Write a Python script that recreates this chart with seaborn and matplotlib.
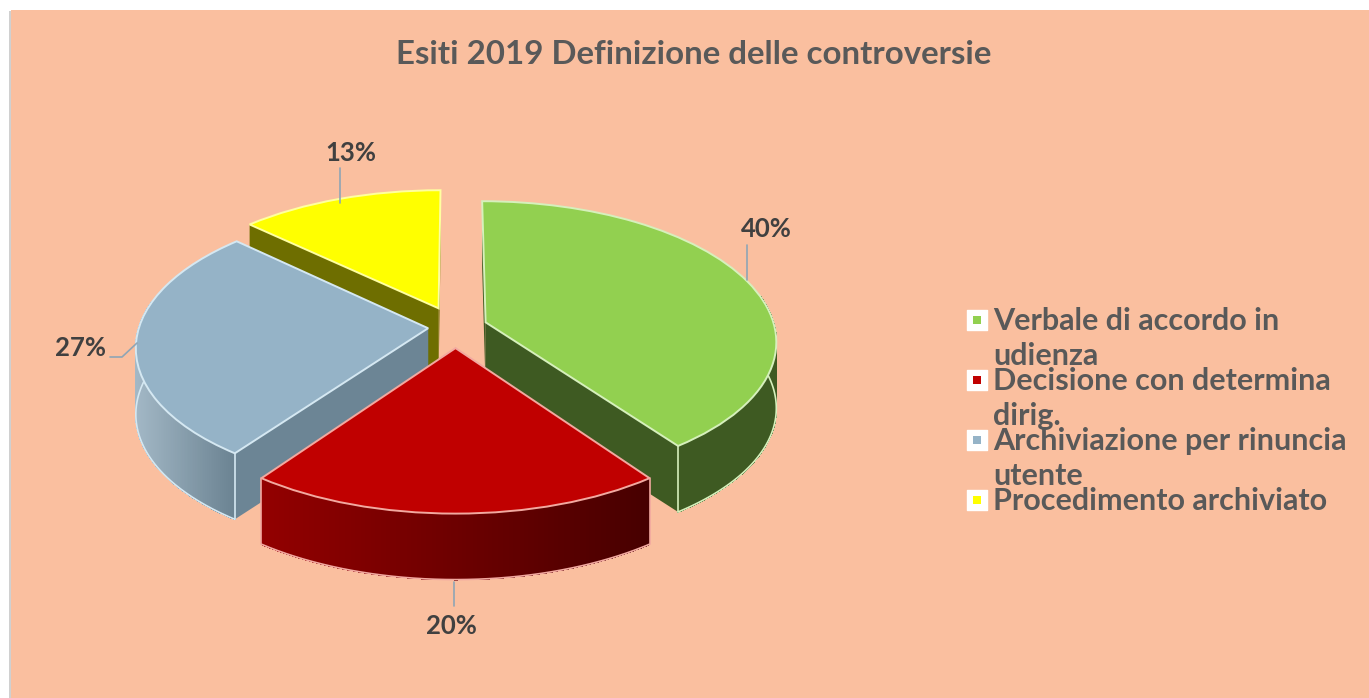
import numpy as np
import matplotlib
matplotlib.use("Agg")
import matplotlib.pyplot as plt
from matplotlib.transforms import Transform
from matplotlib.patches import Rectangle
from matplotlib.colors import to_rgb
import seaborn as sns

title = "Esiti 2019 Definizione delle controversie"
categories = ["Verbale di accordo in\nudienza", "Decisione con determina\ndirig.",
              "Archiviazione per rinuncia\nutente", "Procedimento archiviato"]
values = [40, 20, 27, 13]
top_colors = ["#92D050", "#C00000", "#95B3C7", "#FFFF00"]
edge_colors = ["#D6F0BC", "#F2A9A0", "#D5E8F2", "#FFFFA0"]
wall_left = ["#3E5A22", "#930000", "#A3B8C6", "#6E6E00"]
wall_right = ["#3E5A22", "#470000", "#6A8291", "#6E6E00"]
inner_colors = ["#3E5A22", "#6A0000", "#6C8595", "#6E6E00"]
explode = [0.11, 0.15, 0.095, 0.15]
label_pos = [(766, 229), (451, 626), (80, 348), (351, 153)]
leaders = [[(747, 280), (747, 245)], [(454, 582), (454, 606)],
           [(137, 343), (122, 357), (110, 357)], [(340, 203), (340, 168)]]

CX, CY, A, B, P, DEPTH = 455.5, 327.0, 289.0, 138.0, 0.13, 66.0


class Perspective(Transform):
    input_dims = output_dims = 2
    is_separable = False
    has_inverse = False

    def transform_non_affine(self, xy):
        xy = np.asarray(xy, dtype=float)
        d = 1 + P * xy[:, 1]
        return np.column_stack([CX + A * xy[:, 0] / d, CY - B * xy[:, 1] / d])


sns.set_theme(style="white")
plt.rcParams["font.family"] = ["Lato", "DejaVu Sans"]

fig = plt.figure(figsize=(13.69, 6.98), dpi=100, facecolor="white")
ax = fig.add_axes([0, 0, 1, 1])
palette = sns.color_palette(top_colors)
wedges, _ = ax.pie(values, colors=palette, explode=explode, startangle=90,
                   counterclock=False, radius=1.0)
ax.set_aspect("auto")
ax.set_xlim(0, 1369)
ax.set_ylim(698, 0)
ax.axis("off")

ax.add_patch(Rectangle((9, 11), 3, 690, fc="#D0D0D0", ec="none", zorder=0))
ax.add_patch(Rectangle((11, 10), 1360, 690, fc="#FABF9F", ec="none", zorder=0.5))

proj = Perspective()
tr = proj + ax.transData
order = [3, 0, 2, 1]  # back to front
z = 2
for i in order:
    w = wedges[i]
    c = np.array(w.center)
    t1, t2 = np.deg2rad(sorted([w.theta1, w.theta2]))
    ang = np.linspace(t1, t2, 200)
    rim = c + np.column_stack([np.cos(ang), np.sin(ang)])
    rim_px = proj.transform_non_affine(rim)
    apex_px = proj.transform_non_affine(c[None, :])[0]
    # inner walls
    for end in (rim_px[0], rim_px[-1]):
        poly = np.array([apex_px, end, end + [0, DEPTH], apex_px + [0, DEPTH]])
        ax.fill(poly[:, 0], poly[:, 1], fc=inner_colors[i], ec="none", zorder=z)
    # outer wall with horizontal shading, only on the side facing the viewer
    front = np.sin(ang) < 0.2
    left = np.array(to_rgb(wall_left[i]))
    right = np.array(to_rgb(wall_right[i]))
    xmin, xmax = rim_px[:, 0].min(), rim_px[:, 0].max()
    for k in range(len(rim_px) - 1):
        if not (front[k] and front[k + 1]):
            continue
        p, q = rim_px[k], rim_px[k + 1]
        f = ((p[0] + q[0]) / 2 - xmin) / (xmax - xmin)
        col = left + (right - left) * f
        ax.fill([p[0], q[0], q[0], p[0]], [p[1], q[1], q[1] + DEPTH, p[1] + DEPTH],
                fc=col, ec=col, lw=0.5, antialiased=False, zorder=z + 0.1)
    if front.any():
        ax.plot(rim_px[front, 0], rim_px[front, 1] + DEPTH, color=edge_colors[i], lw=1.2, zorder=z + 0.2)
        for k in (0, -1):
            if front[k]:
                p = rim_px[k]
                ax.plot([p[0], p[0]], [p[1], p[1] + DEPTH], color=edge_colors[i], lw=1.2, zorder=z + 0.2)
    # top face: the pie wedge itself under the perspective transform
    w.set_transform(tr)
    w.set_zorder(z + 0.3)
    w.set_edgecolor(edge_colors[i])
    w.set_linewidth(1.4)
    z += 1

for v, (x, y), pts in zip(values, label_pos, leaders):
    pts = np.array(pts)
    ax.plot(pts[:, 0], pts[:, 1], color="#8FA5B5", lw=1.2, zorder=9)
    ax.text(x, y, f"{v}%", ha="center", va="center", fontsize=18.5, fontweight="bold",
            color="#404040", zorder=10)

ax.text(694, 54, title, ha="center", va="center", fontsize=23.8, fontweight="bold",
        color="#595959", zorder=10)

legend_y = [320, 380, 440, 500]
for name, col, y in zip(categories, top_colors, legend_y):
    ax.add_patch(Rectangle((967, y - 10), 20, 20, fc="white", ec="white", lw=1,
                           joinstyle="round", zorder=9))
    ax.add_patch(Rectangle((973, y - 4), 8, 8, fc=col, ec="none", zorder=10))
    lines = name.split("\n")
    for j, line in enumerate(lines):
        ax.text(993, y + 1 + j * 35, line, ha="left", va="center", fontsize=22, fontweight="bold",
                color="#595959", zorder=10)

fig.savefig("out.png", dpi=100)
